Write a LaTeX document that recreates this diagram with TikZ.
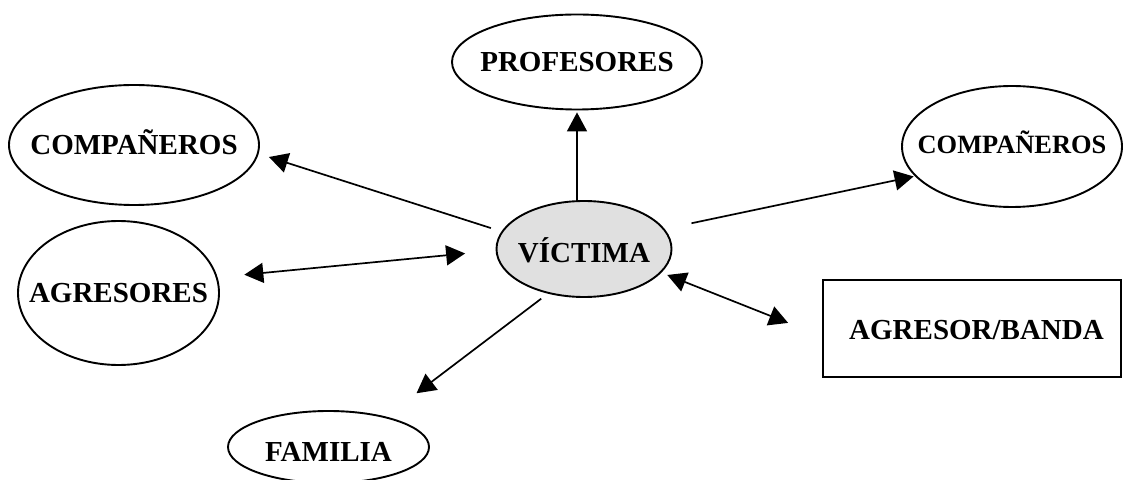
\documentclass[tikz,border=0pt]{standalone}
\usepackage{fontspec}
\setmainfont{Liberation Serif}
\usetikzlibrary{shapes.geometric,arrows.meta}
\definecolor{vicfill}{RGB}{224,224,224}
\begin{document}
\begin{tikzpicture}[x=0.5pt,y=-0.5pt,
  shapebox/.style={draw=black, line width=0.95pt},
  oval/.style={shapebox, ellipse, inner sep=0pt},
  box/.style={shapebox, rectangle, inner sep=0pt},
  tag/.style={font=\fontsize{14.5pt}{16pt}\selectfont\bfseries, inner sep=0pt,
              text height=9.6pt, text depth=0pt},
  smalltag/.style={font=\fontsize{13.2pt}{15pt}\selectfont\bfseries, inner sep=0pt,
              text height=8.74pt, text depth=0pt},
  link/.style={line width=0.85pt, -{Triangle[width=10pt,length=9.5pt]}},
  dlink/.style={line width=0.85pt, {Triangle[width=10pt,length=9.5pt]}-{Triangle[width=10pt,length=9.5pt]}}]

\useasboundingbox (0,0) rectangle (1123,480);
\clip (0,0) rectangle (1123,480);

% central node
\node[oval, fill=vicfill, minimum width=87.5pt, minimum height=48pt,
      label={[tag, yshift=-1.75pt]center:VÍCTIMA}] (vic) at (584,249) {};

% surrounding nodes
\node[oval, minimum width=125pt, minimum height=47.5pt,
      label={[tag]center:PROFESORES}] (prof) at (577,62) {};
\node[oval, minimum width=125pt, minimum height=60pt,
      label={[tag]center:COMPAÑEROS}] (compl) at (134,145) {};
\node[oval, minimum width=100.5pt, minimum height=72pt,
      label={[tag]center:AGRESORES}] (agr) at (118.5,293) {};
\node[oval, minimum width=110pt, minimum height=60.5pt,
      label={[smalltag, yshift=0.75pt]center:COMPAÑEROS}] (compr) at (1012,146.5) {};
\node[box, minimum width=149pt, minimum height=48.5pt,
      label={[tag, xshift=2.25pt, yshift=-0.75pt]center:AGRESOR/BANDA}] (banda) at (972,328.5) {};
\node[oval, minimum width=100.5pt, minimum height=36pt,
      label={[tag, yshift=-2.5pt]center:FAMILIA}] (fam) at (328.5,447) {};

% connectors
\draw[link, shorten >=1pt] (vic.north -| prof.south) -- (prof.south);
\draw[link, shorten <=5.55pt, shorten >=5.4pt] (vic.168) -- (compl.-4);
\draw[dlink, shorten <=15.3pt, shorten >=13.45pt] (vic.181) -- (agr.9);
\draw[link, shorten <=13.7pt, shorten >=0.65pt] (vic.14) -- (compr.197);
\draw[dlink, shorten <=3.15pt, shorten >=18.25pt] (vic.-17) -- (banda.183);
\draw[link, shorten <=4.15pt, shorten >=19.25pt] (vic.231) -- (fam.28);
\end{tikzpicture}
\end{document}
